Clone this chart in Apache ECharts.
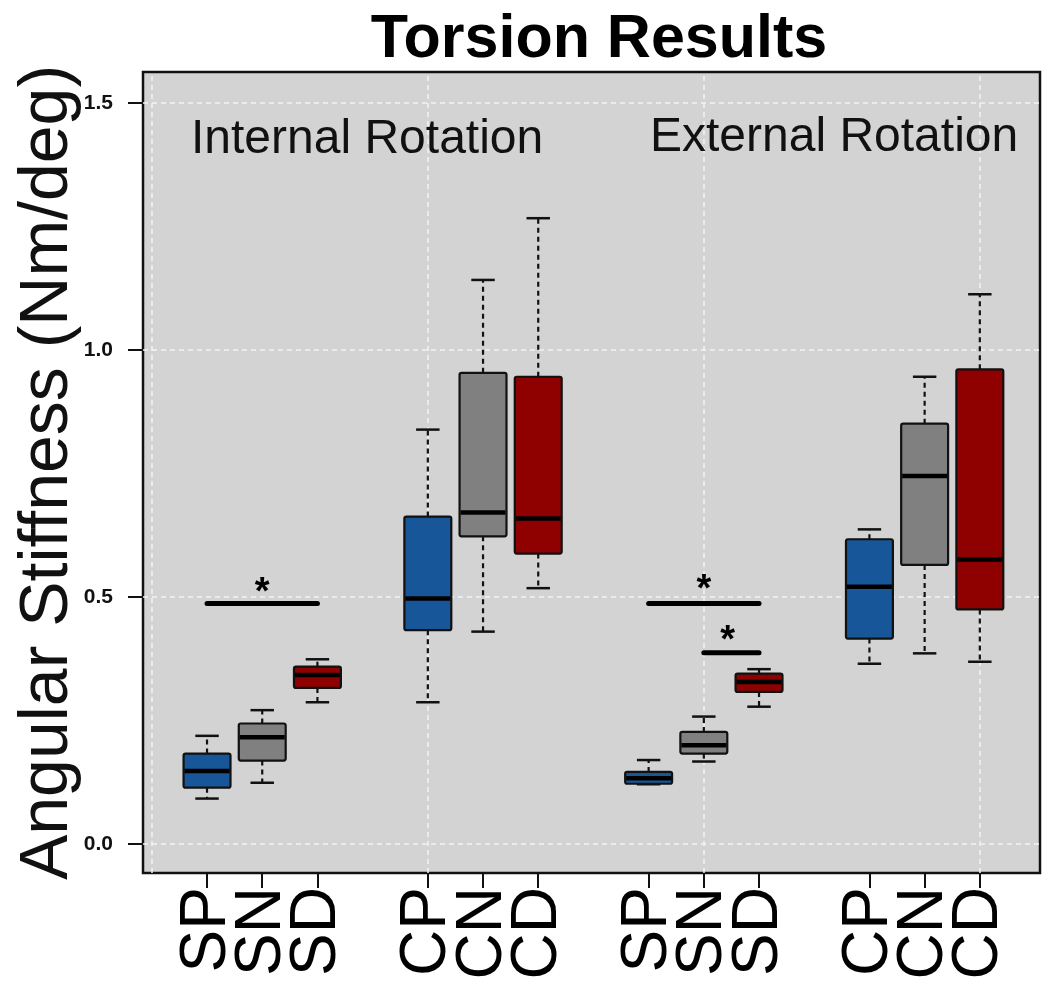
<!DOCTYPE html>
<html>
<head>
<meta charset="utf-8">
<script src="https://cdn.jsdelivr.net/npm/echarts@6/dist/echarts.min.js"></script>
<style>html,body{margin:0;padding:0;background:#fff;}#chart{width:1050px;height:985px;}</style>
</head>
<body>
<div id="chart"></div>
<script>
// ---- data ----
const categories = ['SP','SN','SD','CP','CN','CD','SP','SN','SD','CP','CN','CD'];
const positions  = [1, 2, 3, 5, 6, 7, 9, 10, 11, 13, 14, 15];
const lows    = [0.092, 0.124, 0.287, 0.287, 0.430, 0.518, 0.121, 0.167, 0.278, 0.365, 0.386, 0.369];
const q1s     = [0.114, 0.169, 0.316, 0.433, 0.623, 0.588, 0.122, 0.183, 0.308, 0.416, 0.565, 0.475];
const medians = [0.148, 0.216, 0.342, 0.497, 0.671, 0.659, 0.133, 0.200, 0.328, 0.521, 0.745, 0.576];
const q3s     = [0.183, 0.244, 0.359, 0.663, 0.954, 0.946, 0.146, 0.227, 0.345, 0.617, 0.851, 0.961];
const highs   = [0.219, 0.271, 0.374, 0.839, 1.142, 1.267, 0.170, 0.258, 0.354, 0.637, 0.946, 1.113];
const groupKind = [0, 1, 2, 0, 1, 2, 0, 1, 2, 0, 1, 2];   // 0 = P (blue), 1 = N (gray), 2 = D (red)
const yTicks = [0, 0.5, 1.0, 1.5];
const xGridValues = [0, 5, 10, 15];
const annotations = [[3.9, 1.425, 'Internal Rotation'], [12.36, 1.43, 'External Rotation']];
const sigSegments = [[1, 3, 0.487], [9, 11, 0.487], [10, 11, 0.387]];
const sigStars = [[2, 0.528], [10, 0.534], [10.43, 0.43]];

const colors = ['#18569a', '#808080', '#8f0000'];
const boxWidth = 0.85;
const xMin = -0.16, xMax = 16.09;

const chart = echarts.init(document.getElementById('chart'), null, {renderer: 'canvas'});

const boxData = positions.map((p, i) => [p, lows[i], q1s[i], medians[i], q3s[i], highs[i], groupKind[i]]);
const labelOf = {};
positions.forEach((p, i) => { labelOf[p] = categories[i]; });
// padding values at the axis ends (empty, hidden) so that the real end labels are not treated as min/max labels
const xTickValues = [xMin + 0.05].concat(positions, [xMax - 0.05]);

function renderBox(params, api) {
  const x = api.value(0);
  const pLow = api.coord([x, api.value(1)]);
  const pQ1 = api.coord([x, api.value(2)]);
  const pMed = api.coord([x, api.value(3)]);
  const pQ3 = api.coord([x, api.value(4)]);
  const pHigh = api.coord([x, api.value(5)]);
  const color = colors[api.value(6)];
  const halfW = api.size([boxWidth, 0])[0] / 2;
  const capHalf = halfW / 2;
  const cx = pMed[0];
  const dashed = {stroke: '#111', lineWidth: 2.2, lineDash: [5, 4]};
  const solid = {stroke: '#111', lineWidth: 2.5};
  return {
    type: 'group',
    children: [
      {type: 'line', shape: {x1: cx, y1: pQ3[1], x2: cx, y2: pHigh[1]}, style: dashed},
      {type: 'line', shape: {x1: cx, y1: pQ1[1], x2: cx, y2: pLow[1]}, style: dashed},
      {type: 'line', shape: {x1: cx - capHalf, y1: pHigh[1], x2: cx + capHalf, y2: pHigh[1]}, style: solid},
      {type: 'line', shape: {x1: cx - capHalf, y1: pLow[1], x2: cx + capHalf, y2: pLow[1]}, style: solid},
      {type: 'rect', shape: {x: cx - halfW, y: pQ3[1], width: 2 * halfW, height: pQ1[1] - pQ3[1], r: 2},
        style: {fill: color, stroke: '#111', lineWidth: 2.2}},
      {type: 'line', shape: {x1: cx - halfW + 1, y1: pMed[1], x2: cx + halfW - 1, y2: pMed[1]},
        style: {stroke: '#000', lineWidth: 4.5}}
    ]
  };
}

function renderSeg(params, api) {
  const a = api.coord([api.value(0), api.value(2)]);
  const b = api.coord([api.value(1), api.value(2)]);
  return {type: 'line', shape: {x1: a[0], y1: a[1], x2: b[0], y2: b[1]},
    style: {stroke: '#000', lineWidth: 5, lineCap: 'round'}};
}

const gridLineStyle = {color: '#f4f4f4', type: [5, 4], width: 1.5};

const option = {
  animation: false,
  backgroundColor: '#ffffff',
  graphic: [{
    type: 'text', x: 599, y: 10,
    style: {text: 'Torsion Results', font: 'bold 61px "Liberation Sans", Arial, sans-serif',
      fill: '#000', textAlign: 'center', textVerticalAlign: 'top'}
  }],
  grid: {left: 143, right: 10, top: 72, bottom: 112, show: true, outerBoundsMode: 'none', containLabel: false,
    backgroundColor: '#d3d3d3', borderColor: '#111', borderWidth: 2.5},
  xAxis: {
    type: 'value', min: xMin, max: xMax,
    axisLine: {show: false, onZero: false},
    splitLine: {show: false},
    axisTick: {show: true, customValues: xTickValues, length: 15, lineStyle: {color: '#111', width: 2}},
    axisLabel: {show: true, customValues: xTickValues, rotate: 90, margin: 14,
      showMinLabel: false, showMaxLabel: false, hideOverlap: false,
      formatter: v => labelOf[v] || '',
      fontFamily: '"Liberation Sans", Arial, sans-serif', fontSize: 64, color: '#000'}
  },
  yAxis: {
    type: 'value', min: -0.0587, max: 1.563,
    name: 'Angular Stiffness (Nm/deg)', nameLocation: 'middle', nameRotate: 90, nameGap: 61,
    nameMoveOverlap: false,
    nameTextStyle: {fontFamily: '"Liberation Sans", Arial, sans-serif', fontSize: 68, color: '#111'},
    axisLine: {show: false, onZero: false},
    splitLine: {show: false},
    axisTick: {show: true, customValues: yTicks, length: 15, lineStyle: {color: '#111', width: 2}},
    axisLabel: {show: true, customValues: yTicks, margin: 30,
      showMinLabel: true, showMaxLabel: true,
      formatter: v => v.toFixed(1),
      fontFamily: '"Liberation Sans", Arial, sans-serif', fontWeight: 'bold', fontSize: 21, color: '#111'}
  },
  series: [
    {
      type: 'line', data: [], silent: true, z: 0,
      markLine: {silent: true, symbol: 'none', label: {show: false}, z: 0,
        lineStyle: gridLineStyle,
        data: yTicks.map(v => ({yAxis: v})).concat(xGridValues.map(v => ({xAxis: v})))}
    },
    {type: 'custom', renderItem: renderBox, data: boxData, z: 3},
    {type: 'custom', renderItem: renderSeg, data: sigSegments, z: 4},
    {
      type: 'scatter', symbolSize: 0, data: sigStars, z: 5, itemStyle: {opacity: 1},
      label: {show: true, position: 'inside', formatter: '*', offset: [0, 10],
        fontFamily: '"Liberation Sans", Arial, sans-serif', fontWeight: 'bold', fontSize: 38, color: '#000', opacity: 1}
    },
    {
      type: 'scatter', symbolSize: 0, data: annotations, z: 5, itemStyle: {opacity: 1},
      label: {show: true, position: 'inside', formatter: p => p.data[2],
        fontFamily: '"Liberation Sans", Arial, sans-serif', fontSize: 48, color: '#111', opacity: 1}
    }
  ]
};
chart.setOption(option);
</script>
</body>
</html>
